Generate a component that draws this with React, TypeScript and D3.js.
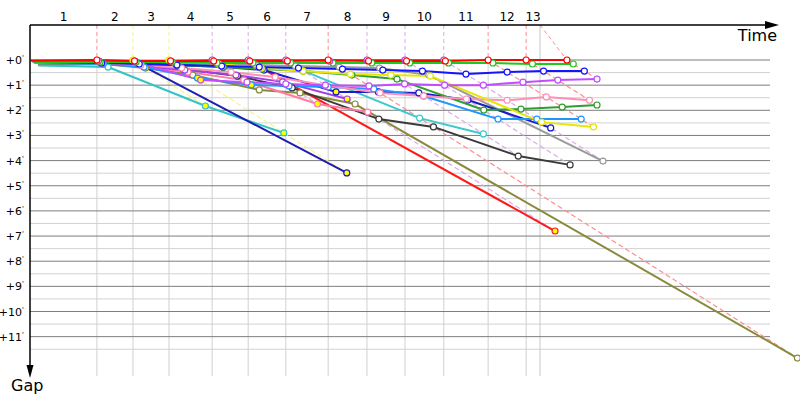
import React from 'react';
import * as d3 from 'd3';

const W = 800;
const H = 400;

// Lap numbers shown along the top axis
const lapLabels = ['1', '2', '3', '4', '5', '6', '7', '8', '9', '10', '11', '12', '13'];
// Leader's cumulative time (minutes) at the end of each lap
const leaderTimes = [1.69, 2.6, 3.51, 4.6, 5.51, 6.46, 7.53, 8.51, 9.47, 10.45, 11.57, 12.53, 13.56];
// Time when the race clock ran out (minutes)
const raceEnd = 12.88;
// Gap ticks (minutes)
const gapTicks = [0, 1, 2, 3, 4, 5, 6, 7, 8, 9, 10, 11];
const gapHalfTicks = [0.5, 1.5, 2.5, 3.5, 4.5, 5.5, 6.5, 7.5, 8.5, 9.5, 10.5, 11.5];

// Drivers: gap to leader (minutes) at the end of each lap; pits = laps (1-based) marked with a yellow dot
const redGaps = [0, 0.04, 0.04, 0.04, 0.04, 0.04, 0, 0.04, 0.04, 0.04, 0, 0, 0];
const purpleLeadGaps = [0.04, 0.04, 0.04, 0, 0, 0, 0.04, 0, 0, 0];
const yellowGaps = [0.04, 0, 0, 0.16, 0.32, 0.44, 0.56, 0.6, 0.64, 2.47, 2.66];
const greenGaps = [0.08, 0.08, 0.08, 0.12, 0.12, 0.12, 0.12, 0.12, 0.12, 0.12, 0.12, 0.16, 0.16];
const blueGaps = [0.12, 0.16, 0.2, 0.24, 0.28, 0.32, 0.36, 0.4, 0.44, 0.56, 0.48, 0.44, 0.44];
const violetGaps = [0.08, 0.12, 0.8, 0.88, 0.95, 1.0, 1.03, 0.95, 1.0, 1.0, 0.88, 0.8, 0.76];
const pinkGaps = [0.12, 0.2, 0.32, 0.48, 0.68, 1.0, 1.31, 1.43, 1.55, 1.6, 1.47, 1.6];
const darkGreenGaps = [0.12, 0.16, 0.2, 0.28, 0.36, 0.44, 0.6, 0.76, 1.99, 1.95, 1.87, 1.79];
const dodgerGaps = [0.16, 0.28, 0.72, 0.99, 1.03, 1.07, 1.15, 1.43, 2.35, 2.35, 2.35];
const navyGaps = [0.08, 0.12, 0.2, 0.28, 0.4, 1.27, 1.27, 1.31, 1.59, 2.7];
const grayGaps = [0.08, 0.12, 0.16, 0.2, 0.2, 0.24, 0.28, 0.32, 0.6, 4.02];
const blackGaps = [0.12, 0.2, 0.36, 0.64, 1.11, 2.35, 2.66, 3.82, 4.17];
const turquoiseGaps = [0.12, 0.16, 0.2, 0.24, 0.32, 0.4, 2.31, 2.94];
const oliveGaps = [0.16, 0.32, 0.6, 1.19, 1.31, 1.75, 11.85];
const cyanGaps = [0.28, 1.83, 2.9];
const navyRetGaps = [0.08, 0.16, 4.49];
const redRetGaps = [0.04, 0.08, 0.08, 0.12, 0.2, 6.8];
const purple2Gaps = [0.12, 0.24, 0.4, 0.6, 0.87, 1.55];
const pink2Gaps = [0.12, 0.24, 0.48, 0.8, 1.75, 2.07];

type Driver = { name: string; color: string; start: number; gaps: number[]; pits: number[] };

const drivers: Driver[] = [
  { name: 'olive', color: '#8a8a3c', start: 0.2, gaps: oliveGaps, pits: [] },
  { name: 'cyan', color: '#33c4c4', start: 0.22, gaps: cyanGaps, pits: [2, 3] },
  { name: 'navyRet', color: '#1e1eb4', start: 0.08, gaps: navyRetGaps, pits: [3] },
  { name: 'redRet', color: '#ff1a1a', start: 0.04, gaps: redRetGaps, pits: [5, 6] },
  { name: 'black', color: '#3a3a3a', start: 0.1, gaps: blackGaps, pits: [] },
  { name: 'gray', color: '#9a9a9a', start: 0.06, gaps: grayGaps, pits: [] },
  { name: 'turquoise', color: '#3cc8cc', start: 0.12, gaps: turquoiseGaps, pits: [] },
  { name: 'pink2', color: '#ff7aa6', start: 0.12, gaps: pink2Gaps, pits: [5] },
  { name: 'purple2', color: '#a040e8', start: 0.1, gaps: purple2Gaps, pits: [6] },
  { name: 'navy', color: '#1a1acc', start: 0.08, gaps: navyGaps, pits: [6] },
  { name: 'dodger', color: '#1e96ff', start: 0.12, gaps: dodgerGaps, pits: [3, 4] },
  { name: 'darkGreen', color: '#2e9e2e', start: 0.1, gaps: darkGreenGaps, pits: [] },
  { name: 'pink', color: '#ff8fb4', start: 0.1, gaps: pinkGaps, pits: [] },
  { name: 'yellow', color: '#e6e600', start: 0, gaps: yellowGaps, pits: [] },
  { name: 'violet', color: '#c44cff', start: 0.06, gaps: violetGaps, pits: [3] },
  { name: 'blue', color: '#1414ff', start: 0.08, gaps: blueGaps, pits: [] },
  { name: 'green', color: '#1ec81e', start: 0.08, gaps: greenGaps, pits: [] },
  { name: 'purpleLead', color: '#b044c8', start: 0.04, gaps: purpleLeadGaps, pits: [] },
  { name: 'red', color: '#ff0000', start: 0.02, gaps: redGaps, pits: [] },
];

const FONT = 'Tahoma, Verdana, "DejaVu Sans", sans-serif';

export default function App() {
  const x = d3.scaleLinear().domain([0, 19.32]).range([30, 795]);
  const y = d3.scaleLinear().domain([0, 12]).range([60, 361.8]);
  const axisY = 25;
  const gridRight = 770;
  const gridBottom = 376;

  const pointsOf = (d: Driver) => [
    [x(d.start), y(d.start)] as [number, number],
    ...d.gaps.map((g, i) => [x(leaderTimes[i] + g), y(g)] as [number, number]),
  ];
  const line = d3.line<[number, number]>().x((p) => p[0]).y((p) => p[1]);

  // leader and last car for each lap
  const lapInfo = leaderTimes.map((T, k) => {
    const onLap = drivers.filter((d) => d.gaps.length > k);
    const leader = onLap[d3.minIndex(onLap, (d) => d.gaps[k])];
    const last = onLap[d3.maxIndex(onLap, (d) => d.gaps[k])];
    const light = d3.interpolateRgb(leader.color, '#ffffff')(0.55);
    return { T, leader, lastGap: last.gaps[k], light };
  });

  const bounds = [0, ...leaderTimes.slice(0, 12), raceEnd];

  return (
    <svg width={W} height={H} style={{ position: 'absolute', left: 0, top: 0, background: '#fff' }}>
      {/* horizontal grid */}
      {gapHalfTicks.map((g) => (
        <line key={'h' + g} x1={30} x2={gridRight} y1={y(g)} y2={y(g)} stroke="#d2d2d2" strokeWidth={1} />
      ))}
      {leaderTimes.slice(0, 12).map((T, i) => (
        <line key={'v' + i} x1={x(T)} x2={x(T)} y1={y(0)} y2={gridBottom} stroke="#d0d0d0" strokeWidth={1} />
      ))}
      <line x1={x(raceEnd)} x2={x(raceEnd)} y1={axisY} y2={gridBottom} stroke="#c8c8c8" strokeWidth={1} />
      {gapTicks.map((g) => (
        <line key={'H' + g} x1={30} x2={gridRight} y1={y(g)} y2={y(g)} stroke="#7d7d7d" strokeWidth={1} />
      ))}

      {/* leader markers at top: dashed drops */}
      {lapInfo.map((l, i) =>
        i < 12 ? (
          <line key={'d' + i} x1={x(l.T)} x2={x(l.T)} y1={axisY} y2={y(0)} stroke={l.light} strokeWidth={1} strokeDasharray="4,3" />
        ) : (
          <line key={'d' + i} x1={x(raceEnd)} x2={x(l.T)} y1={axisY} y2={y(0)} stroke={l.light} strokeWidth={1} strokeDasharray="4,3" />
        )
      )}
      {/* lap lines */}
      {lapInfo.map((l, i) => (
        <line
          key={'l' + i}
          x1={x(l.T)}
          y1={y(0)}
          x2={x(l.T + l.lastGap)}
          y2={y(l.lastGap)}
          stroke={l.light}
          strokeWidth={1.2}
          strokeDasharray="5,3"
        />
      ))}

      {/* driver lines */}
      {drivers.map((d) => (
        <path key={'p' + d.name} d={line(pointsOf(d)) || ''} fill="none" stroke={d.color} strokeWidth={2} strokeLinejoin="round" />
      ))}
      {/* markers */}
      {drivers.map((d) =>
        d.gaps.map((g, i) => (
          <circle
            key={'c' + d.name + i}
            cx={x(leaderTimes[i] + g)}
            cy={y(g)}
            r={3}
            fill={d.pits.includes(i + 1) ? '#ffff00' : '#ffffff'}
            stroke={d.color}
            strokeWidth={1.2}
          />
        ))
      )}

      {/* axes */}
      <line x1={30} x2={768} y1={axisY} y2={axisY} stroke="#000" strokeWidth={1.5} />
      <path d={`M765,21 L779,25 L765,29 Z`} fill="#000" />
      <line x1={30} x2={30} y1={axisY} y2={368} stroke="#000" strokeWidth={1.5} />
      <path d={`M26.5,365 L30,378 L33.5,365 Z`} fill="#000" />

      {/* lap labels */}
      {lapLabels.map((lab, i) => (
        <text key={'t' + i} x={x((bounds[i] + bounds[i + 1]) / 2)} y={21} textAnchor="middle" fontFamily={FONT} fontSize={12} fill="#000">
          {lab}
        </text>
      ))}
      {/* gap labels */}
      {gapTicks.map((g) => (
        <text key={'g' + g} x={24} y={y(g) + 4} textAnchor="end" fontFamily={FONT} fontSize={11} fill="#000">
          {'+' + g}
          <tspan fontSize={7} dy={-4}>'</tspan>
        </text>
      ))}
      <text x={777} y={41} textAnchor="end" fontFamily={FONT} fontSize={16} fill="#000">Time</text>
      <text x={11} y={391} fontFamily={FONT} fontSize={16} fill="#000">Gap</text>
    </svg>
  );
}
